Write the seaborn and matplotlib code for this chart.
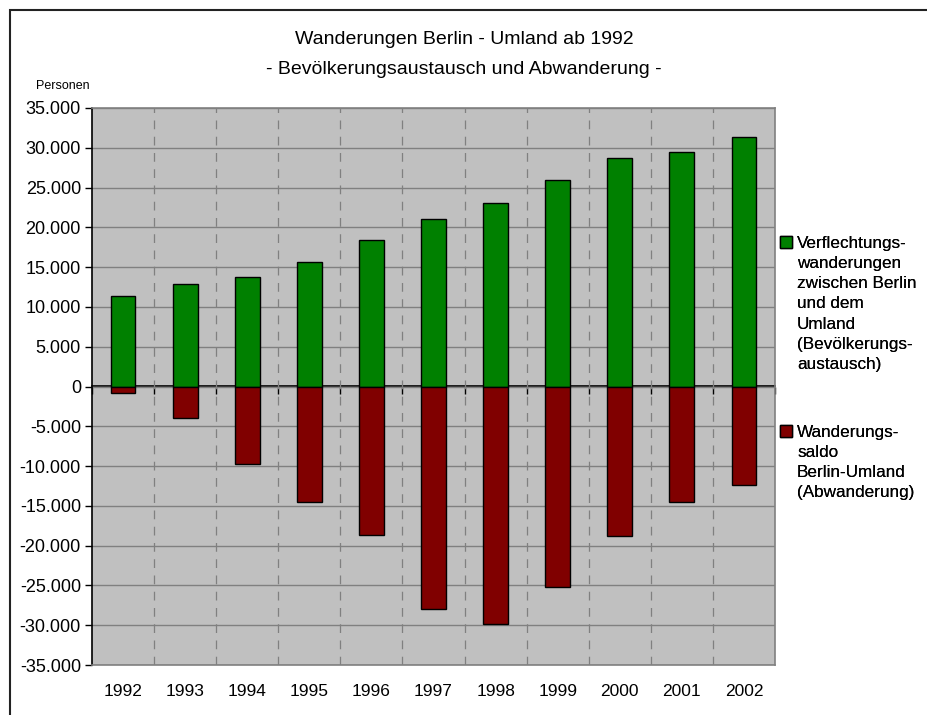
import matplotlib
matplotlib.use("Agg")
import matplotlib.pyplot as plt
import matplotlib.ticker as mticker
from matplotlib.patches import Patch, Rectangle
import seaborn as sns
import pandas as pd

years = [1992, 1993, 1994, 1995, 1996, 1997, 1998, 1999, 2000, 2001, 2002]
austausch = [11350, 12850, 13750, 15600, 18450, 21000, 23100, 26000, 28700, 29500, 31300]
saldo = [-800, -3950, -9750, -14550, -18700, -27950, -29900, -25200, -18800, -14500, -12400]

label_green = ["Verflechtungs-", "wanderungen", "zwischen Berlin", "und dem",
               "Umland", "(Bevölkerungs-", "austausch)"]
label_red = ["Wanderungs-", "saldo", "Berlin-Umland", "(Abwanderung)"]
yticks = list(range(-35000, 35001, 5000))

GREEN = "#008000"
RED = "#800000"
GRAY = "#C0C0C0"
GRID = "#808080"

df = pd.DataFrame({
    "Jahr": [str(y) for y in years] * 2,
    "Personen": austausch + saldo,
    "Reihe": ["austausch"] * len(years) + ["saldo"] * len(years),
})

sns.set_theme(style="white")
plt.rcParams["font.family"] = ["Liberation Sans", "DejaVu Sans"]
plt.rcParams["text.color"] = "black"
plt.rcParams["xtick.color"] = "black"
plt.rcParams["ytick.color"] = "black"

fig = plt.figure(figsize=(9.28, 7.15), dpi=100)
ax = fig.add_axes([92 / 928, 50 / 715, 683 / 928, 557 / 715])
ax.set_facecolor(GRAY)

sns.barplot(data=df, x="Jahr", y="Personen", hue="Reihe", dodge=False,
            palette=[GREEN, RED], saturation=1, width=0.4, edgecolor="black",
            linewidth=1, legend=False, ax=ax)

ax.set_xlim(-0.5, len(years) - 0.5)
ax.set_ylim(-35000, 35000)
ax.set_yticks(yticks)
ax.yaxis.set_major_formatter(mticker.FuncFormatter(
    lambda v, p: f"{v:,.0f}".replace(",", ".")))
ax.yaxis.grid(True, color=GRID, linewidth=1)
ax.xaxis.set_minor_locator(mticker.FixedLocator([i + 0.5 for i in range(len(years) - 1)]))
ax.xaxis.grid(True, which="minor", color=GRID, linestyle=(0, (7, 6)), linewidth=0.9)
ax.xaxis.grid(False, which="major")
ax.set_axisbelow(True)
ax.tick_params(axis="x", which="both", length=0, pad=14, labelsize=12.5)
ax.tick_params(axis="y", length=5, width=1, direction="out",
               pad=3, labelsize=13, left=True)
ax.set_xlabel("")
ax.set_ylabel("")
for s in ["top", "right", "bottom"]:
    ax.spines[s].set_color(GRID)
    ax.spines[s].set_linewidth(1.2)
ax.spines["left"].set_color("black")
ax.spines["left"].set_linewidth(1.2)

# zero line with category ticks pointing down
zero = ax.secondary_xaxis(0.5)
zero.set_xticks([i + 0.5 for i in range(-1, len(years))])
zero.xaxis.set_ticklabels([])
zero.tick_params(length=5, width=1, direction="out", bottom=True, top=False,
                 labelbottom=False, labeltop=False)
for s in zero.spines.values():
    s.set_color("black")
    s.set_linewidth(1.2)

fig.text(0.5, 1 - 40 / 715, "Wanderungen Berlin - Umland ab 1992", ha="center",
         va="center", fontsize=14)
fig.text(0.5, 1 - 69 / 715, "- Bevölkerungsaustausch und Abwanderung -", ha="center",
         va="center", fontsize=14)
fig.text(63 / 928, 1 - 86 / 715, "Personen", ha="center", va="center", fontsize=9)

blank = Patch(visible=False)
hg = [Patch(facecolor=GREEN, edgecolor="black")] + [blank] * (len(label_green) - 1)
hr = [Patch(facecolor=RED, edgecolor="black")] + [blank] * (len(label_red) - 1)
for handles, labels, top in [(hg, label_green, 236), (hr, label_red, 425)]:
    lg = fig.legend(handles, labels, loc="upper left",
                    bbox_to_anchor=(780 / 928, 1 - top / 715), frameon=False,
                    fontsize=12.3, handlelength=0.7, handleheight=0.7,
                    handletextpad=0.3, labelspacing=0.3, borderpad=0,
                    borderaxespad=0)
    fig.add_artist(lg)

fig.add_artist(Rectangle((10 / 928, -0.5), 2, 1.5 - 10 / 715, transform=fig.transFigure,
                         fill=False, edgecolor="#222222", linewidth=1.5))

fig.savefig("out.png", dpi=100)
